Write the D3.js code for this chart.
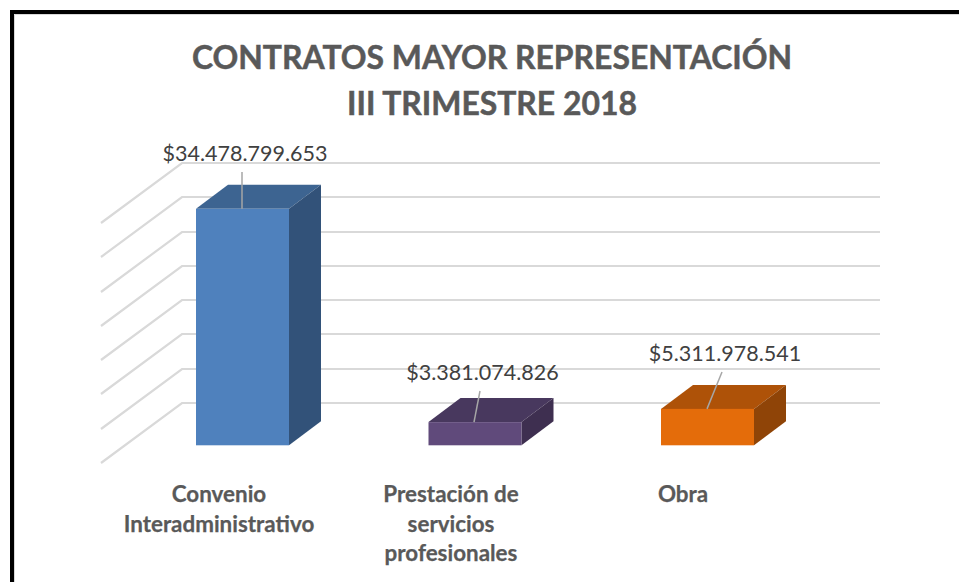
<!DOCTYPE html>
<html><head><meta charset="utf-8">
<script src="https://cdn.jsdelivr.net/npm/d3@7"></script>
<style>html,body{margin:0;padding:0;background:#fff}svg{display:block}text{font-family:Lato,"Open Sans",sans-serif}</style>
</head><body><svg id="c" width="959" height="582"></svg>
<script>
const categories = ["Convenio Interadministrativo","Prestación de servicios profesionales","Obra"];
const categoryLines = [["Convenio","Interadministrativo"],["Prestación de","servicios","profesionales"],["Obra"]];
const values = [34478799653,3381074826,5311978541];
const valueLabels = ["$34.478.799.653","$3.381.074.826","$5.311.978.541"];
const frontColors = ["#4f81bd","#604a7b","#e46c0a"];
const topColors = ["#3d6491","#48385e","#ae5208"];
const sideColors = ["#325279","#3e2f50","#8f4407"];
const gridTicks = [0,5e9,10e9,15e9,20e9,25e9,30e9,35e9];
const titleLines = ["CONTRATOS MAYOR REPRESENTACIÓN","III TRIMESTRE 2018"];

const svg = d3.select("#c");
// frame: open on the right and at the bottom
svg.append("path").attr("d","M12 582V12H959").attr("fill","none").attr("stroke","#000").attr("stroke-width",4);
svg.append("path").attr("d","M14.5 582V14.5H959").attr("fill","none").attr("stroke","#d9d9d9").attr("stroke-width",1);

const y = d3.scaleLinear().domain([0,35e9]).range([445.3,205.3]); // front plane of the bars
const wall = d3.scaleLinear().domain([0,35e9]).range([403,163]);  // back wall
const x0 = d3.scalePoint().domain(categories).range([196,661]);
const barW = 93, dx = 32, dy = 24;

// gridlines
const g = svg.append("g").attr("fill","none").attr("stroke","#d9d9d9").attr("stroke-width",2.2);
gridTicks.forEach(t=>{
  const yy = Math.round(wall(t));
  g.append("path").attr("d",`M101 ${yy+60}L182 ${yy}H880`);
});

// bars
values.forEach((v,i)=>{
  const L = x0(categories[i]), R = L+barW, T = y(v), B = y(0);
  const b = svg.append("g");
  b.append("path").attr("fill",topColors[i]).attr("d",`M${L} ${T}L${L+dx} ${T-dy}H${R+dx}L${R} ${T}Z`);
  b.append("path").attr("fill",sideColors[i]).attr("d",`M${R} ${T}L${R+dx} ${T-dy}V${B-dy}L${R} ${B}Z`);
  b.append("rect").attr("x",L).attr("y",T).attr("width",barW).attr("height",B-T).attr("fill",frontColors[i]);
});

// leaders and labels
const labelX = [245,482.5,725], labelY = [161,380,361];
const leaderFoot = [242,474,707];
const leaderTop = [[242,172],[480,391],[722,372]];
values.forEach((v,i)=>{
  svg.append("line").attr("x1",leaderFoot[i]).attr("y1",y(v)).attr("x2",leaderTop[i][0]).attr("y2",leaderTop[i][1])
    .attr("stroke","#a6a6a6").attr("stroke-width",1.5);
  svg.append("text").attr("x",labelX[i]).attr("y",labelY[i]).attr("text-anchor","middle")
    .attr("font-size",21.5).attr("fill","#404040").text(valueLabels[i]);
});

// title
titleLines.forEach((t,i)=>svg.append("text").attr("x",492).attr("y",[68.5,114.5][i]).attr("text-anchor","middle")
  .attr("font-size",31.9).attr("font-weight",700).attr("fill","#595959").attr("stroke","#595959").attr("stroke-width",.5).text(t));

// category labels
const catX = [219,451,683];
categoryLines.forEach((ls,i)=>ls.forEach((l,j)=>svg.append("text").attr("x",catX[i]).attr("y",502+j*29.5)
  .attr("text-anchor","middle").attr("font-size",22.4).attr("font-weight",700).attr("fill","#595959").attr("stroke","#595959").attr("stroke-width",.25).text(l)));
</script></body></html>
